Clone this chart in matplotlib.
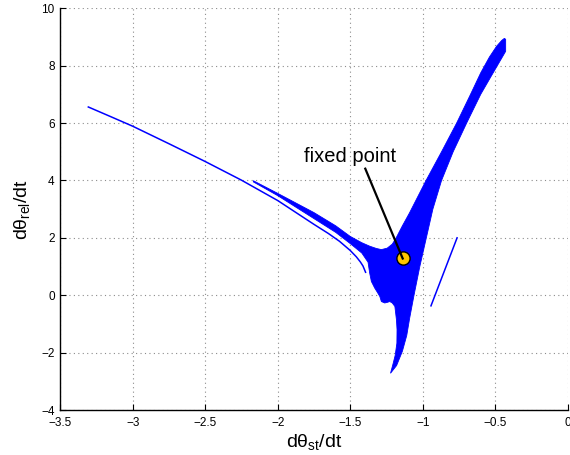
#!/usr/bin/env python3
# coding: utf-8

"""
Phase portrait: dtheta_rel/dt vs dtheta_st/dt, with the fixed point marked.
Writes out.png (570x455).
"""

import matplotlib
matplotlib.use('Agg')
import matplotlib.pyplot as plt
import numpy as np

# long thin trajectory on the left
long_x = [-3.306, -3.15, -3.0, -2.75, -2.5, -2.25, -2.0, -1.75, -1.65, -1.574, -1.5, -1.458, -1.43, -1.412, -1.394]
long_y = [6.56, 6.22, 5.89, 5.28, 4.66, 4.01, 3.30, 2.47, 2.15, 1.88, 1.56, 1.34, 1.16, 1.02, 0.80]

# filled bundle: upper edge (band start -> arm tip)
top_x = [-2.168, -2.0, -1.75, -1.6, -1.5, -1.42, -1.366, -1.32, -1.285, -1.245, -1.21,
         -1.183, -1.14, -1.092, -0.977, -0.87, -0.766, -0.675, -0.60, -0.54, -0.49, -0.455, -0.437, -0.428]
top_y = [3.99, 3.55, 2.88, 2.42, 2.05, 1.83, 1.71, 1.63, 1.59, 1.64, 1.78,
         2.00, 2.42, 2.86, 4.00, 5.00, 6.00, 6.95, 7.75, 8.30, 8.68, 8.88, 8.95, 8.92]

# right edge of the arm and the tail, going down
right_x = [-0.428, -0.46, -0.52, -0.60, -0.697, -0.79, -0.87, -0.93, -0.975, -1.02, -1.06,
           -1.09, -1.11, -1.14, -1.18, -1.222]
right_y = [8.50, 8.22, 7.70, 7.00, 6.00, 5.00, 4.00, 3.00, 2.00, 1.00, 0.00,
           -0.80, -1.40, -1.95, -2.45, -2.72]

# left edge of the tail and lower edge of the band, going back up
left_x = [-1.205, -1.19, -1.178, -1.177, -1.181, -1.192, -1.21, -1.227, -1.245, -1.262,
          -1.285, -1.296, -1.315, -1.331, -1.354, -1.366, -1.377, -1.42, -1.5, -1.6,
          -1.75, -2.0, -2.168]
left_y = [-2.40, -2.10, -1.67, -1.20, -0.86, -0.39, -0.27, -0.22, -0.25, -0.27,
          -0.22, -0.04, 0.12, 0.25, 0.48, 0.78, 1.15, 1.47, 1.80, 2.19,
          2.67, 3.47, 3.95]

# short separate segment on the right
sep_x = [-0.943, -0.763]
sep_y = [-0.37, 2.00]

fixed_x = -1.138
fixed_y = 1.28
label_x = -1.498
label_y = 4.65
arrow_x = [-1.396, fixed_x]
arrow_y = [4.41, fixed_y]

xticks = [-3.5, -3.0, -2.5, -2.0, -1.5, -1.0, -0.5, 0.0]
xtick_labels = ['\u22123.5', '\u22123', '\u22122.5', '\u22122', '\u22121.5', '\u22121', '\u22120.5', '0']
yticks = [-4, -2, 0, 2, 4, 6, 8, 10]
ytick_labels = ['\u22124', '\u22122', '0', '2', '4', '6', '8', '10']

plt.rcParams['font.family'] = ['Liberation Sans', 'DejaVu Sans']
plt.rcParams['mathtext.fontset'] = 'custom'
plt.rcParams['mathtext.rm'] = 'Liberation Sans'
plt.rcParams['mathtext.it'] = 'Liberation Sans'
plt.rcParams['mathtext.bf'] = 'Liberation Sans:bold'

fig = plt.figure(figsize=(5.7, 4.55), dpi=100)
ax = fig.add_axes([0.1056, 0.0989, 0.8904, 0.8829])

blue = '#0000FF'
poly_x = top_x + right_x + left_x
poly_y = top_y + right_y + left_y
ax.fill(poly_x, poly_y, facecolor=blue, edgecolor=blue, lw=0.6, zorder=2)
ax.plot(long_x, long_y, color=blue, lw=1.1, zorder=2)
ax.plot(sep_x, sep_y, color=blue, lw=1.1, zorder=2)

ax.plot([fixed_x], [fixed_y], 'o', ms=9.5, mfc='#FFC600', mec='black', mew=1.0, zorder=3)
ax.plot(arrow_x, arrow_y, color='black', lw=1.6, zorder=4)
ax.text(label_x, label_y, 'fixed point', fontsize=14.5, ha='center', va='baseline', zorder=5)

ax.set_xlim(-3.5, 0)
ax.set_ylim(-4, 10)
ax.set_xticks(xticks)
ax.set_xticklabels(xtick_labels)
ax.set_yticks(yticks)
ax.set_yticklabels(ytick_labels)
ax.tick_params(direction='in', length=4, width=0.8, labelsize=8.5, colors='black')
ax.tick_params(axis='x', pad=5)
ax.tick_params(axis='y', pad=4)

ax.grid(True, color='#8c8c8c', linestyle=(0, (1, 3)), lw=0.8)
ax.set_axisbelow(True)
for side in ['top', 'right']:
    ax.spines[side].set_visible(False)
for side in ['left', 'bottom']:
    ax.spines[side].set_linewidth(1.0)

ax.set_xlabel(r'd$\theta_{\mathrm{st}}$/dt', fontsize=14)
ax.set_ylabel(r'd$\theta_{\mathrm{rel}}$/dt', fontsize=14)
ax.xaxis.set_label_coords(0.5, -0.055)
ax.yaxis.set_label_coords(-0.055, 0.5)

fig.savefig('out.png', dpi=100)
plt.close(fig)
